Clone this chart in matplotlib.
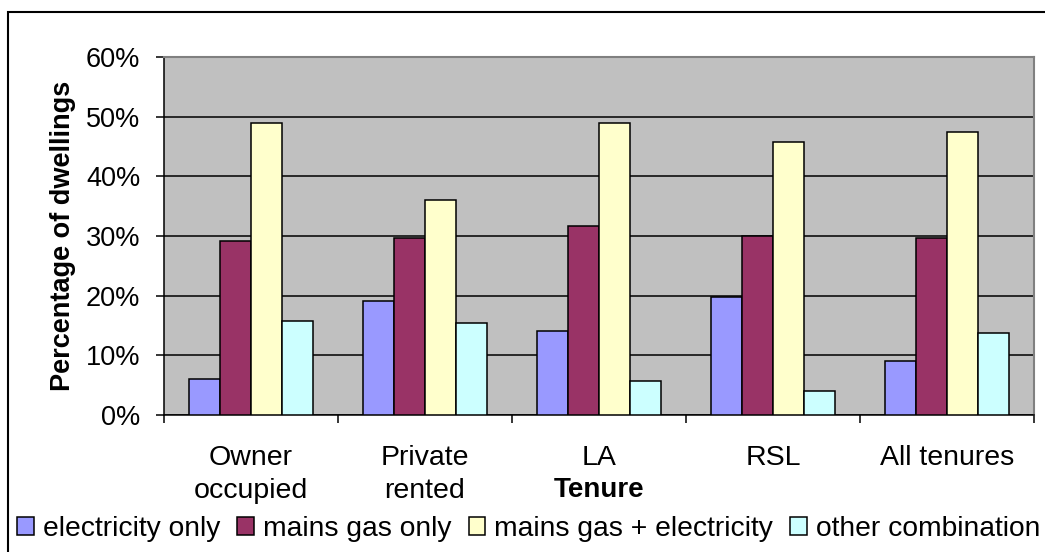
import matplotlib.pyplot as plt
import numpy as np
from matplotlib.patches import Rectangle, Patch

plt.rcParams['font.family'] = ['Liberation Sans', 'DejaVu Sans']

tenures = ['Owner\noccupied', 'Private\nrented', 'LA', 'RSL', 'All tenures']
series_names = ['electricity only', 'mains gas only', 'mains gas + electricity', 'other combination']
elec_only = [6.1, 19.1, 14.1, 19.8, 9.1]
gas_only = [29.2, 29.6, 31.6, 30.0, 29.6]
gas_elec = [49.0, 36.0, 49.0, 45.7, 47.4]
other_comb = [15.8, 15.5, 5.7, 4.1, 13.8]
colors = ['#9999FF', '#993366', '#FFFFCC', '#CCFFFF']

fig = plt.figure(figsize=(10.45, 5.52), dpi=100)
ax = fig.add_axes([164/1045, 1-415/552, (1034-164)/1045, (415-57)/552])
ax.set_facecolor('#C0C0C0')

x = np.arange(len(tenures))
w = 0.178
data = [elec_only, gas_only, gas_elec, other_comb]
for i, vals in enumerate(data):
    ax.bar(x + (i - 1.5)*w, vals, w, color=colors[i], edgecolor='black',
           linewidth=1.1, zorder=3, label=series_names[i])

ax.set_ylim(0, 60)
ax.set_xlim(-0.5, 4.5)
ax.set_yticks(range(0, 61, 10))
ax.set_yticklabels(['%d%%' % v for v in range(0, 61, 10)], fontsize=19.5)
ax.yaxis.grid(True, color='black', linewidth=1.1, zorder=1)
ax.set_axisbelow(True)
ax.tick_params(axis='y', length=6, width=1.1, pad=11)

ax.set_xticks(x)
ax.set_xticklabels(tenures, fontsize=20.5, linespacing=1.38)
ax.set_xticks(np.arange(-0.5, 5.0, 1.0), minor=True)
ax.tick_params(axis='x', which='major', length=0, pad=21.5)
ax.tick_params(axis='x', which='minor', length=6, width=1.1)

for s in ['top', 'right']:
    ax.spines[s].set_color('#808080')
    ax.spines[s].set_linewidth(1.5)
for s in ['left', 'bottom']:
    ax.spines[s].set_color('black')
    ax.spines[s].set_linewidth(1.1)

ax.set_ylabel('Percentage of dwellings', fontsize=19.5, fontweight='bold', labelpad=7)
ax.set_xlabel('Tenure', fontsize=20, fontweight='bold', labelpad=-20)

handles = [Patch(facecolor=c, edgecolor='black', linewidth=1.1) for c in colors]
fig.legend(handles, series_names, loc='center', bbox_to_anchor=(0.506, 1-529/552),
           ncol=4, frameon=False, fontsize=20.3, handlelength=0.6, handleheight=0.6,
           handletextpad=0.32, columnspacing=0.6, borderaxespad=0, borderpad=0)

# chart area border (extends beyond right and bottom edge of the picture)
fig.patches.append(Rectangle((8/1045, -0.1), 1.2, 1-12/552+0.1, transform=fig.transFigure,
                             fill=False, edgecolor='black', linewidth=1.5))

fig.savefig('out.png', dpi=100)
